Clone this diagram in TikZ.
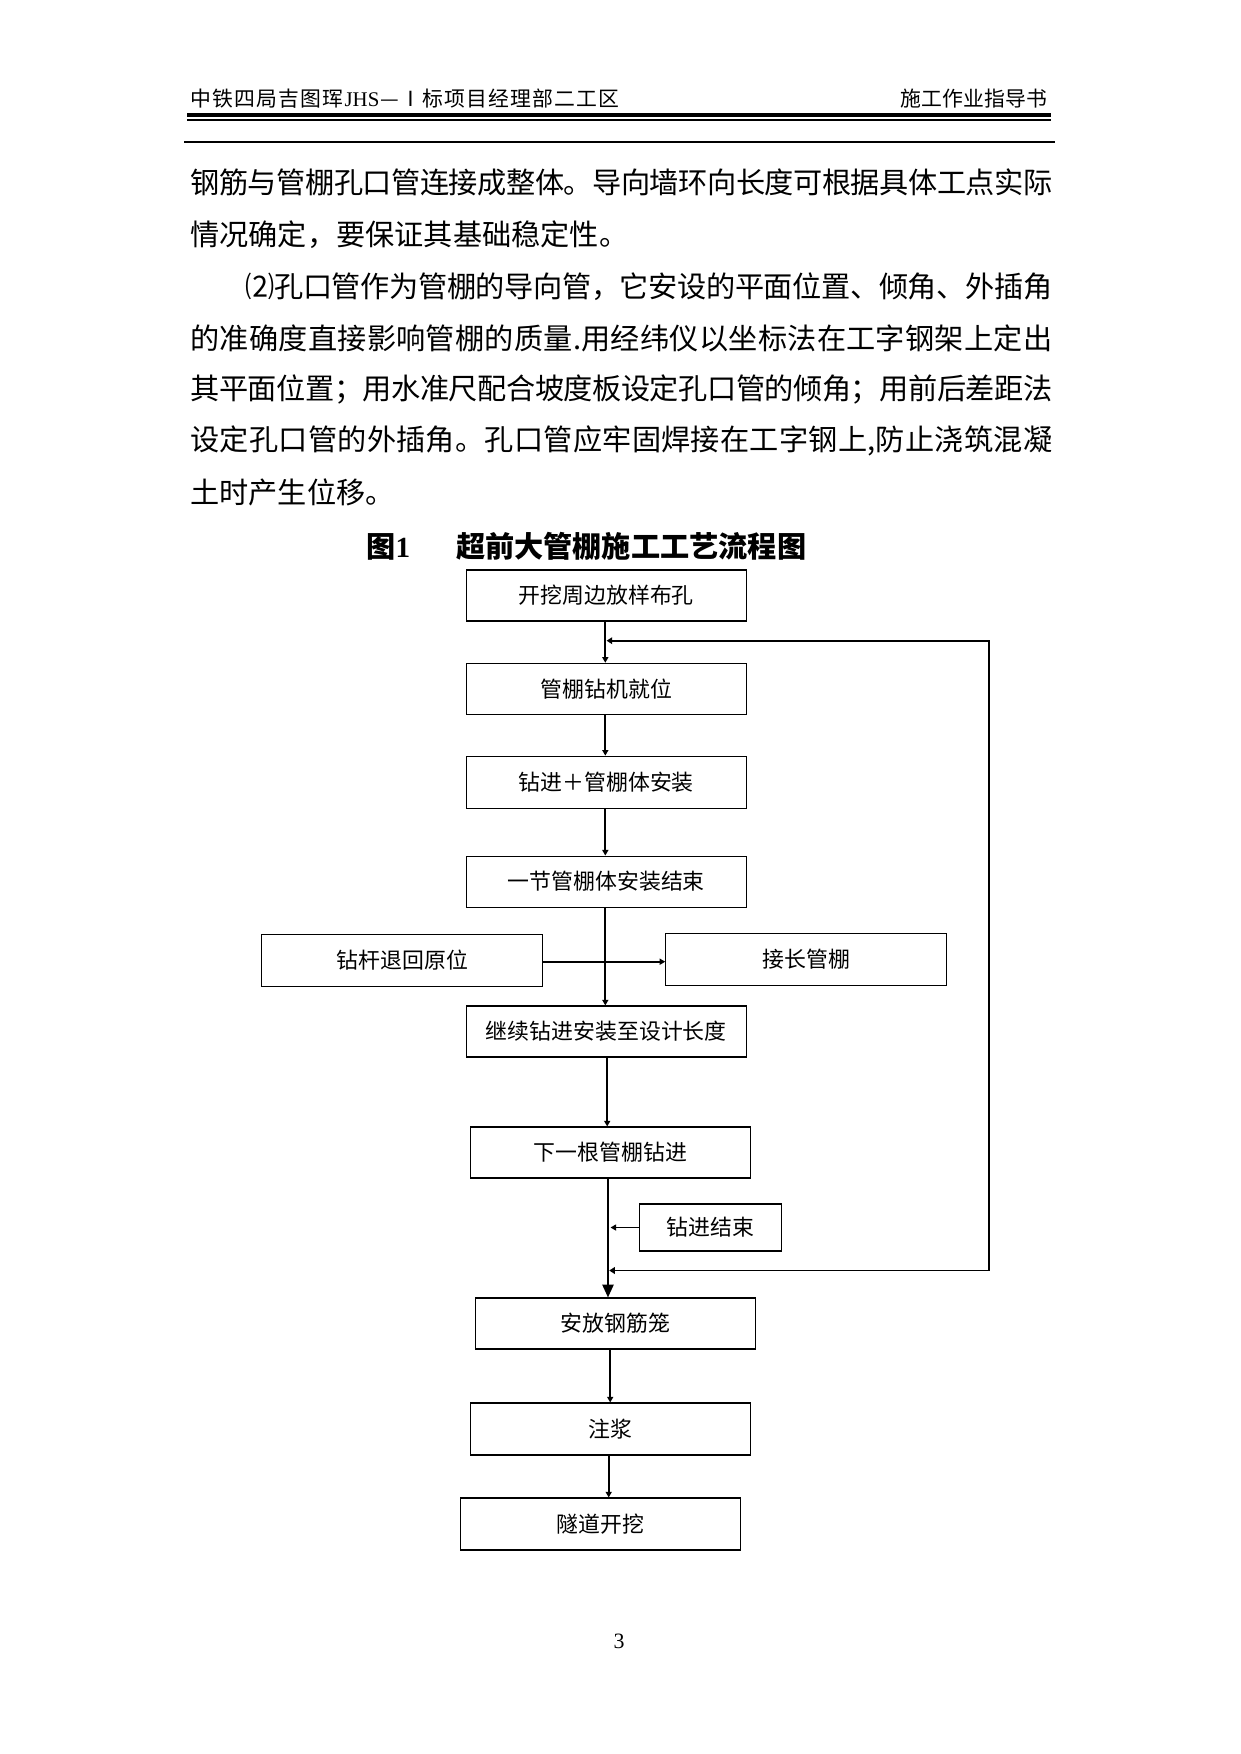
\documentclass[tikz,border=0pt]{standalone}
\usepackage{fontspec}
\setmainfont{Liberation Serif}
\newfontfamily\cjk{Noto Sans CJK SC}
\newfontfamily\lat{Liberation Serif}
\usetikzlibrary{arrows.meta}
\def\PX{0.4797pt}
\newcommand\setfs[1]{\fontsize{#1}{#1}\selectfont}
% spread a line of characters evenly to a given width
\def\jend{}
\def\jline#1#2{\hbox to #1{\jfirst#2\jend}}
\def\jfirst#1{#1\jrest}
\def\jrest#1{\ifx\jend#1\else\hskip 0pt plus 1fil minus 1fil\relax#1\expandafter\jrest\fi}
\tikzset{
  body/.style={anchor=west, inner sep=0pt, font=\cjk\setfs{14}},
  head/.style={inner sep=0pt, font=\cjk\setfs{10}},
  box/.style={draw, line width=1.1*\PX, inner sep=0pt, minimum width=280*\PX, minimum height=51*\PX, font=\cjk\setfs{10.5}},
  conn/.style={line width=1.9*\PX, -{Triangle[length=2.7pt,width=2.9pt]}},
  bigconn/.style={line width=1.9*\PX, -{Triangle[length=6.2pt,width=5.4pt]}},
  loopline/.style={line width=1.8*\PX, {Triangle[length=2.7pt,width=3.2pt]}-{Triangle[length=2.7pt,width=3.2pt]}},
}
\begin{document}
\begin{tikzpicture}[x=0.4797pt,y=-0.4797pt]
\useasboundingbox (0,0) rectangle (1241,1754);
\fill[white] (0,0) rectangle (1241,1754);

% header
\node[head, anchor=west] (hl) at (190,98.5) {\jline{205.8pt}{中铁四局吉图珲{{\lat JHS}}—Ⅰ标项目经理部二工区}};
\node[head, anchor=east] (hr) at (1048,98.5) {\jline{70.5pt}{施工作业指导书}};
\draw[line width=4*\PX] (187,115.5) -- (1051,115.5);
\draw[line width=1.6*\PX] (187,120.3) -- (1051,120.3);
\draw[line width=2.4*\PX] (184,142) -- (1055,142);

% body text
\node[body] (t1) at (190,182.5) {\jline{413.5pt}{钢筋与管棚孔口管连接成整体。导向墙环向长度可根据具体工点实际}};
\node[body] (t2) at (190,234.7) {情况确定，要保证其基础稳定性。};
\node[body] (t3) at (245,286.3) {\jline{387.1pt}{⑵孔口管作为管棚的导向管，它安设的平面位置、倾角、外插角}};
\node[body] (t4) at (190,337.9) {\jline{413.5pt}{的准确度直接影响管棚的质量.用经纬仪以坐标法在工字钢架上定出}};
\node[body] (t5) at (190,389.5) {\jline{413.5pt}{其平面位置；用水准尺配合坡度板设定孔口管的倾角；用前后差距法}};
\node[body] (t6) at (190,441.3) {\jline{413.5pt}{设定孔口管的外插角。孔口管应牢固焊接在工字钢上,防止浇筑混凝}};
\node[body] (t7) at (190,492.6) {土时产生位移。};

% title
\node[anchor=west, inner sep=0pt, font=\cjk\bfseries\setfs{14}] (title) at (366,546) {图{\lat\bfseries 1}\hspace{22pt}超前大管棚施工工艺流程图};

% boxes
\node[box] (b1) at (606.3,595.5) {开挖周边放样布孔};
\node[box] (b2) at (606.3,688.8) {管棚钻机就位};
\node[box, minimum height=52*\PX] (b3) at (606.3,782.2) {钻进＋管棚体安装};
\node[box] (b4) at (606.3,881.6) {一节管棚体安装结束};
\node[box, minimum width=281*\PX, minimum height=52*\PX] (b5) at (402.4,960.2) {钻杆退回原位};
\node[box, minimum width=281*\PX, minimum height=52*\PX] (b6) at (806.3,959.2) {接长管棚};
\node[box] (b7) at (606.3,1031.5) {继续钻进安装至设计长度};
\node[box] (b8) at (610.5,1152.5) {下一根管棚钻进};
\node[box, minimum width=142.5*\PX, minimum height=47*\PX] (b9) at (710.3,1227.5) {钻进结束};
\node[box] (b10) at (615.3,1323.5) {安放钢筋笼};
\node[box, minimum height=52*\PX] (b11) at (610.5,1429) {注浆};
\node[box, minimum height=52*\PX] (b12) at (600.7,1524) {隧道开挖};

% page number
\node[inner sep=0pt, font=\lat\setfs{10.5}] (pg) at (619,1641) {3};

% column coordinates
\coordinate (xa) at (605.3,0);
\coordinate (xb) at (607.2,0);
\coordinate (xc) at (608.0,0);
\coordinate (xd) at (610.2,0);
\coordinate (xe) at (608.7,0);
\coordinate (yh) at (0,961.7);
\coordinate (jt) at (606.6,640.7);
\coordinate (lt) at (989,640.7);
\coordinate (lb) at (989,1270.5);
\coordinate (jb) at (609.2,1270.5);
\coordinate (j9) at (610.5,1227.5);

% connectors
\draw[conn] (b1.south -| xa) -- (b2.north -| xa);
\draw[conn] (b2.south -| xa) -- (b3.north -| xa);
\draw[conn] (b3.south -| xa) -- (b4.north -| xa);
\draw[conn] (b4.south -| xa) -- (b7.north -| xa);
\draw[conn] (b5.east |- yh) -- (b6.west |- yh);
\draw[conn] (b7.south -| xb) -- (b8.north -| xb);
\draw[bigconn] (b8.south -| xc) -- (b10.north -| xc);
\draw[conn] (b9.west) -- (j9);
\draw[loopline] (jt) -- (lt) -- (lb) -- (jb);
\draw[conn] (b10.south -| xd) -- (b11.north -| xd);
\draw[conn] (b11.south -| xe) -- (b12.north -| xe);
\end{tikzpicture}
\end{document}
